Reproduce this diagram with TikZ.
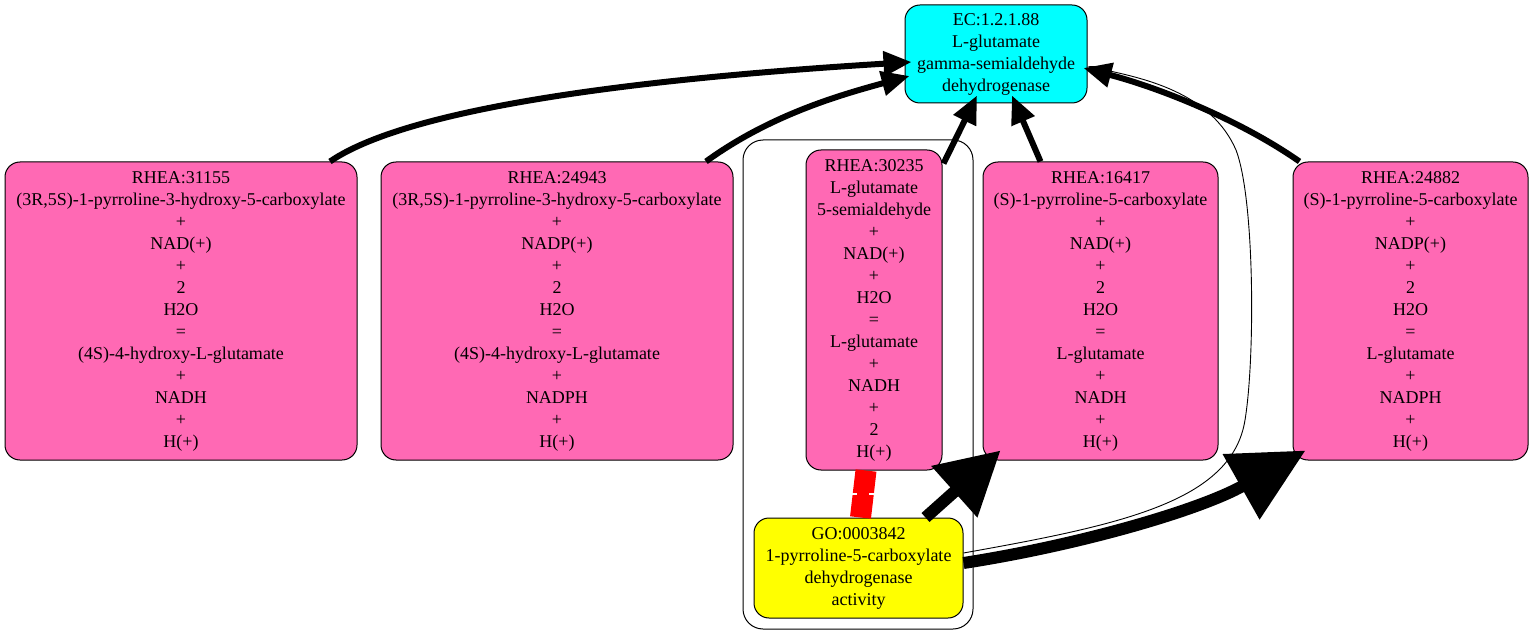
\documentclass[tikz,border=0pt]{standalone}
\usepackage{fontspec}
\setmainfont{Liberation Serif}
\usetikzlibrary{arrows.meta,calc}
\definecolor{rheapink}{HTML}{FF69B4}
\definecolor{eccyan}{HTML}{00FFFF}
\definecolor{goyellow}{HTML}{FFFF00}
\definecolor{tiered}{HTML}{FF0000}
\begin{document}
\begin{tikzpicture}[x=1pt,y=-1pt,
  box/.style={draw=black, line width=1pt, rounded corners=15pt, align=center, inner sep=0pt,
    font=\fontsize{18}{22}\selectfont},
  rhea/.style={box, fill=rheapink},
  ecbox/.style={box, fill=eccyan},
  gobox/.style={box, fill=goyellow},
  ecedge/.style={line width=6pt, -{Triangle[length=28pt,width=24pt]}},
  goedgea/.style={line width=12pt, -{Triangle[length=62pt,width=66pt]}},
  goedgeb/.style={line width=12pt, -{Triangle[length=74pt,width=72pt]}},
  thinedge/.style={line width=0.9pt, -{Triangle[length=24pt,width=9pt]}},
  cluster/.style={draw=black, line width=1pt, rounded corners=20pt}
]
\useasboundingbox (0,0) rectangle (1533,644);
\fill[white] (0,0) rectangle (1533,644);

\draw[cluster] (743,140) rectangle (973,629);

\node[ecbox, minimum width=182pt, minimum height=98pt] (ec) at (996,54)
  {EC:1.2.1.88\\L-glutamate\\gamma-semialdehyde\\dehydrogenase};

\node[rhea, minimum width=352pt, minimum height=298pt] (r31155) at (181,311)
  {RHEA:31155\\(3R,5S)-1-pyrroline-3-hydroxy-5-carboxylate\\+\\NAD(+)\\+\\2\\H2O\\=\\(4S)-4-hydroxy-L-glutamate\\+\\NADH\\+\\H(+)};
\node[rhea, minimum width=352pt, minimum height=298pt] (r24943) at (557,311)
  {RHEA:24943\\(3R,5S)-1-pyrroline-3-hydroxy-5-carboxylate\\+\\NADP(+)\\+\\2\\H2O\\=\\(4S)-4-hydroxy-L-glutamate\\+\\NADPH\\+\\H(+)};
\node[rhea, minimum width=136pt, minimum height=320pt] (r30235) at (874,310)
  {RHEA:30235\\L-glutamate\\5-semialdehyde\\+\\NAD(+)\\+\\H2O\\=\\L-glutamate\\+\\NADH\\+\\2\\H(+)};
\node[rhea, minimum width=235pt, minimum height=298pt] (r16417) at (1100.5,311)
  {RHEA:16417\\(S)-1-pyrroline-5-carboxylate\\+\\NAD(+)\\+\\2\\H2O\\=\\L-glutamate\\+\\NADH\\+\\H(+)};
\node[rhea, minimum width=235pt, minimum height=298pt] (r24882) at (1410.5,311)
  {RHEA:24882\\(S)-1-pyrroline-5-carboxylate\\+\\NADP(+)\\+\\2\\H2O\\=\\L-glutamate\\+\\NADPH\\+\\H(+)};

\node[gobox, minimum width=209pt, minimum height=100pt] (go) at (858.5,568)
  {GO:0003842\\1-pyrroline-5-carboxylate\\dehydrogenase\\activity};

% edges to EC
\draw[ecedge] ([xshift=149pt]r31155.north) .. controls (420,100) and (700,75) .. ([xshift=7pt,yshift=-8pt]ec.west);
\draw[ecedge] ([xshift=149pt]r24943.north) .. controls (770,115) and (840,95) .. ([xshift=5pt,yshift=-22pt]ec.west);
\draw[ecedge] ([xshift=1pt,yshift=-14pt]r30235.north east) -- ([xshift=-19pt,yshift=8pt]ec.south);
\draw[ecedge] ([xshift=-60pt]r16417.north) -- ([xshift=16pt,yshift=8pt]ec.south);
\draw[ecedge] ([xshift=7pt]r24882.north west) .. controls (1240,120) and (1160,88) .. ([xshift=-4pt,yshift=-14pt]ec.east);

% thin edge GO -> EC
\draw[thinedge] ([yshift=15pt]go.east) .. controls (1120,525) and (1232,502) .. (1245,420)
  .. controls (1255,360) and (1255,200) .. (1236,150)
  .. controls (1212,95) and (1150,80) .. ([yshift=-12pt]ec.east);

% GO edges
\draw[goedgea] ([xshift=67pt]go.north) -- ([xshift=-100pt,yshift=10pt]r16417.south);
\draw[goedgeb] ([yshift=5pt]go.east) .. controls (1080,545) and (1200,510) .. ([xshift=-105pt,yshift=10pt]r24882.south);

% red link
\coordinate (redtop) at ([xshift=-8pt]r30235.south);
\coordinate (redbot) at ([xshift=2pt]go.north);
\draw[tiered, line width=21pt] (redtop) -- (redbot);
\coordinate (redmid) at ($(redtop)!0.5!(redbot)$);
\draw[white, line width=1.2pt] ($(redmid)+(-11,0)$) -- ++(5,0);
\draw[white, line width=1.2pt] ($(redmid)+(6,0)$) -- ++(5,0);
\end{tikzpicture}
\end{document}
